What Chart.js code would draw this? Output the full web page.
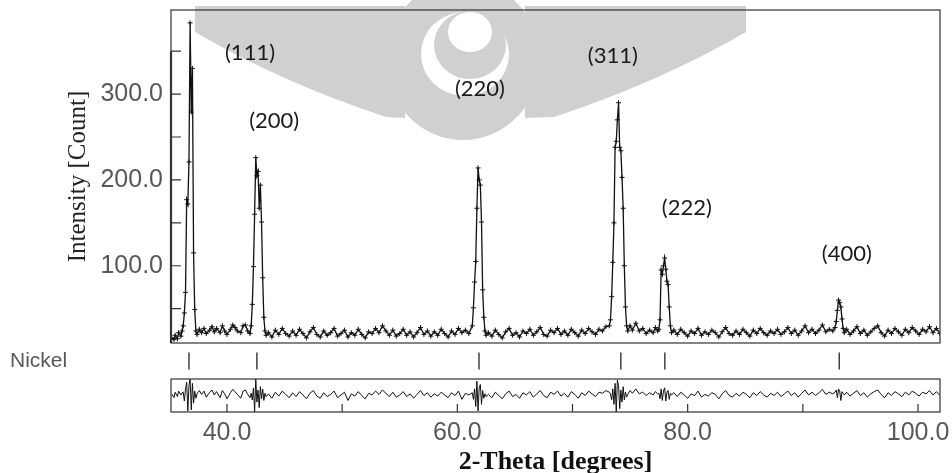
<!DOCTYPE html>
<html>
<head>
<meta charset="utf-8">
<title>Nickel XRD pattern</title>
<script src="https://cdn.jsdelivr.net/npm/chart.js@4.4.1/dist/chart.umd.min.js"></script>
<style>
  html, body { margin: 0; padding: 0; background: #fff; }
  canvas { display: block; }
</style>
</head>
<body>
<canvas id="xrdChart" width="952" height="473"></canvas>
<script>
// observed pattern: 2-theta (degrees), intensity (counts), obs - calc difference
// one line per segment so the three arrays stay lined up
const twoTheta = [
  35.2, 35.4, 35.5, 35.7, 35.8, 36.0, 36.1,
  36.2, 36.3, 36.4, 36.5, 36.6, 36.7, 36.8, 36.9, 37.0, 37.1, 37.2, 37.3, 37.4,
  37.6, 37.8, 38.0, 38.2, 38.5, 38.7, 38.9, 39.1, 39.4, 39.6, 39.8, 40.0, 40.3, 40.5, 40.7, 40.9, 41.2, 41.4, 41.6, 41.8, 42.0,
  42.1, 42.2, 42.3, 42.4, 42.5, 42.6, 42.7, 42.8, 42.9, 43.0, 43.1, 43.2, 43.3, 43.4,
  43.6, 43.9, 44.2, 44.5, 44.8, 45.1, 45.4, 45.7, 46.0, 46.3, 46.6, 46.9, 47.2, 47.5, 47.8, 48.1, 48.4, 48.7, 49.0, 49.3,
  49.6, 49.9, 50.2, 50.5, 50.8, 51.1, 51.4, 51.7, 52.0, 52.3, 52.6, 52.9, 53.2, 53.5, 53.8, 54.1, 54.4, 54.7, 55.0, 55.3,
  55.6, 55.9, 56.2, 56.5, 56.8, 57.1, 57.4, 57.7, 58.0, 58.3, 58.6, 58.9, 59.2, 59.5, 59.8, 60.1, 60.4, 60.7, 61.0,
  61.3, 61.4, 61.5, 61.6, 61.7, 61.8, 61.9, 62.0, 62.1, 62.2, 62.3, 62.4, 62.5,
  62.7, 63.0, 63.3, 63.6, 63.9, 64.2, 64.5, 64.8, 65.1, 65.4, 65.7, 66.0, 66.3, 66.6, 66.9, 67.2, 67.5, 67.8,
  68.1, 68.4, 68.7, 69.0, 69.3, 69.6, 69.9, 70.2, 70.5, 70.8, 71.1, 71.4, 71.7, 72.0, 72.3, 72.6, 72.9,
  73.2, 73.3, 73.4, 73.5, 73.6, 73.7, 73.8, 73.9, 74.0, 74.1, 74.2, 74.3, 74.4, 74.5, 74.6, 74.7, 74.8,
  75.0, 75.2, 75.5, 75.8, 76.1, 76.4, 76.7, 77.0, 77.2, 77.4,
  77.5, 77.6, 77.7, 77.8, 77.9, 78.0, 78.1, 78.2, 78.3, 78.4, 78.5, 78.6,
  78.8, 79.1, 79.4, 79.7, 80.0, 80.3, 80.6, 80.9, 81.2, 81.5, 81.8, 82.1, 82.4, 82.7, 83.0, 83.3, 83.6, 83.9, 84.2, 84.5,
  84.8, 85.1, 85.4, 85.7, 86.0, 86.3, 86.6, 86.9, 87.2, 87.5, 87.8, 88.1, 88.4, 88.7, 89.0, 89.3, 89.6, 89.9, 90.2, 90.5,
  90.8, 91.1, 91.4, 91.7, 92.0, 92.3, 92.6,
  92.8, 92.9, 93.0, 93.1, 93.2, 93.3, 93.4, 93.5, 93.6,
  93.8, 94.1, 94.4, 94.7, 95.0, 95.3, 95.6, 95.9, 96.2, 96.5, 96.8, 97.1, 97.4, 97.7,
  98.0, 98.3, 98.6, 98.9, 99.2, 99.5, 99.8, 100.1, 100.4, 100.7, 101.0, 101.3, 101.6, 101.9
];
const intensity = [
  16, 14, 19, 15, 22, 18, 24,
  30, 45, 69, 177, 172, 221, 383, 279, 330, 115, 49, 24, 20,
  26, 22, 27, 21, 25, 29, 23, 27, 22, 30, 24, 20, 26, 31, 28, 24, 22, 30, 31, 24, 21,
  30, 55, 99, 160, 226, 205, 210, 167, 194, 151, 86, 40, 24, 19,
  22, 17, 25, 20, 27, 21, 18, 24, 19, 26, 21, 16, 23, 28, 20, 17, 24, 19, 22, 27,
  18, 21, 25, 17, 22, 19, 26, 20, 16, 23, 21, 27, 22, 30, 24, 19, 25, 18, 21, 26,
  19, 23, 17, 22, 28, 20, 24, 18, 23, 19, 26, 21, 17, 24, 20, 27, 22, 25, 21,
  30, 51, 81, 105, 167, 214, 200, 194, 151, 72, 40, 24, 19,
  22, 18, 25, 20, 16, 23, 27, 19, 22, 17, 24, 21, 26, 19, 23, 28, 20, 18,
  25, 22, 27, 20, 24, 19, 26, 22, 18, 25, 21, 27, 23, 20, 26, 24, 29,
  30, 37, 64, 104, 150, 238, 245, 270, 290, 238, 234, 203, 167, 100, 52, 30, 24,
  30, 25, 33, 24, 27, 21, 25, 22, 28, 24,
  26, 37, 95, 90, 100, 109, 96, 82, 78, 52, 30, 22,
  25, 20, 26, 22, 18, 24, 21, 27, 19, 23, 20, 25, 22, 17, 23, 28, 21, 19, 24, 20,
  26, 22, 18, 25, 21, 27, 22, 19, 24, 21, 26, 20, 23, 28, 21, 25, 19, 24, 30, 22,
  26, 21, 25, 31, 23, 26, 24,
  28, 35, 48, 60, 57, 52, 38, 27, 22,
  26, 20, 24, 29, 21, 25, 19, 23, 27, 30, 22, 18, 25, 21,
  27, 23, 19, 26, 22, 28, 24, 20, 26, 23, 29, 22, 27, 21
];
const difference = [
  3, -4, 6, -2, 8, 1, 5,
  6, -10, 12, 24, -28, 18, 30, -26, 22, -14, 8, -5, 3,
  9, 2, 8, -3, 6, 10, 1, 7, -4, 9, 3, -6, 5, 11, 7, 2, -5, 8, 10, 2, -4,
  4, -8, 14, -30, 30, -12, 10, -22, 16, -6, 12, -9, 4, -2,
  3, -5, 6, -1, 8, 2, -4, 5, -2, 7, 1, -6, 4, 9, -1, -5, 5, -2, 2, 8,
  -4, 1, 6, -9, 3, -1, 7, 0, -6, 4, 1, 8, 2, 10, 4, -2, 6, -3, 1, 7,
  -2, 3, -5, 2, 9, 0, 5, -3, 3, -1, 6, 1, -4, 5, 0, 8, -7, 4, 1,
  5, -7, 12, -20, 26, -28, 14, 20, -16, 9, -5, 3, -2,
  2, -4, 6, 0, -6, 3, 8, -2, 2, -5, 5, 1, 7, -3, 3, 9, 0, -4,
  6, 2, 8, -1, 4, -3, 7, 2, -5, 5, 0, 8, 3, -2, 6, 4, 9,
  6, 3, -8, 12, -16, 22, -30, 28, 18, -24, 10, -12, 16, -8, 6, -3, 2,
  9, 4, 12, 3, 6, 0, 5, 1, 7, 3,
  4, -6, 12, -9, 8, 14, -10, 6, 9, -7, 4, 1,
  5, -2, 6, 1, -5, 3, 0, 8, -3, 2, -1, 5, 2, -6, 3, 9, 0, -3, 4, -1,
  6, 2, -4, 5, 0, 7, 1, -3, 4, 0, 6, -2, 3, 8, 0, 5, -3, 4, 10, 1,
  6, 0, 5, 11, 2, 6, 3,
  6, 10, -4, 12, 8, -9, 7, 4, 1,
  6, -1, 4, 9, 0, 5, -3, 3, 7, 10, 2, -4, 5, 0,
  7, 3, -2, 6, 1, 8, 4, -1, 6, 3, 9, 1, 7, 0
];

// reflection markers of the nickel phase
const braggPhase = ['Nickel'];
const braggTheta = [36.70, 42.60, 61.88, 74.20, 78.02, 93.16];

// miller index labels, placed in data units
const hklLabels = ['(111)', '(200)', '(220)', '(311)', '(222)', '(400)'];
const hklTheta = [42.0, 44.1, 61.96, 73.5, 79.93, 93.82];
const hklCount = [348, 269, 306, 345, 167, 114];

// tick marks and labelled ticks
const yTickValues = [50, 100, 150, 200, 250, 300, 350];
const yTickLabels = [100, 200, 300];
const xTickValues = [40, 50, 60, 70, 80, 90, 100];
const xTickLabels = [40, 60, 80, 100];

// build point lists for the chart
let observedPoints = [];
let differencePoints = [];
for (let i = 0; i < twoTheta.length; i++) {
  observedPoints.push({ x: twoTheta[i], y: intensity[i] });
  differencePoints.push({ x: twoTheta[i], y: difference[i] });
}
let braggPoints = braggTheta.map(t => ({ x: t, y: braggPhase[0] }));

const axisWidth = 161;
const watermarkGrey = '#d0d0d0';

// fixed box sizes so the three stacked panels line up with the picture
function fixVerticalAxis(s) {
  s.width = axisWidth;
  s.paddingTop = 0;
  s.paddingBottom = 0;
}
function fixHorizontalAxis(s) {
  s.height = 61;
  s.paddingLeft = 0;
  s.paddingRight = 0;
}

// faint university watermark behind the plot
function drawWatermark(ctx) {
  ctx.fillStyle = watermarkGrey;
  // left wing
  ctx.beginPath();
  ctx.moveTo(195, 6);
  ctx.lineTo(405, 6);
  ctx.lineTo(405, 118);
  ctx.lineTo(386, 117);
  ctx.quadraticCurveTo(280, 82, 195, 32);
  ctx.closePath();
  ctx.fill();
  // right wing
  ctx.beginPath();
  ctx.moveTo(746, 6);
  ctx.lineTo(525, 6);
  ctx.lineTo(525, 118);
  ctx.lineTo(554, 117);
  ctx.quadraticCurveTo(660, 82, 746, 32);
  ctx.closePath();
  ctx.fill();
  // centre ring
  ctx.beginPath();
  ctx.ellipse(463, 60, 77, 80, 0, 0, Math.PI * 2);
  ctx.fill();
  ctx.fillStyle = '#fff';
  ctx.beginPath();
  ctx.ellipse(465, 54, 44, 42, 0, 0, Math.PI * 2);
  ctx.fill();
  ctx.fillStyle = watermarkGrey;
  ctx.beginPath();
  ctx.ellipse(470, 45, 36, 34, 0, 0, Math.PI * 2);
  ctx.fill();
  ctx.fillStyle = '#fff';
  ctx.beginPath();
  ctx.ellipse(470, 32, 22, 20, 0, 0, Math.PI * 2);
  ctx.fill();
}

// frames, inward ticks and hkl labels
const framePlugin = {
  id: 'framePlugin',
  beforeDraw(chart) {
    const ctx = chart.ctx;
    ctx.save();
    ctx.fillStyle = '#fff';
    ctx.fillRect(0, 0, chart.width, chart.height);
    drawWatermark(ctx);
    ctx.restore();
  },
  afterDraw(chart) {
    const { ctx, scales } = chart;
    const x = scales.x;
    const y = scales.y;
    const yDiff = scales.yDiff;
    ctx.save();
    ctx.strokeStyle = '#333';
    ctx.lineWidth = 1.2;
    ctx.strokeRect(x.left, y.top, x.right - x.left, y.bottom - y.top);
    ctx.strokeRect(x.left, yDiff.top, x.right - x.left, yDiff.bottom - yDiff.top);
    ctx.lineWidth = 2.2;
    ctx.beginPath();
    ctx.moveTo(x.left, y.getPixelForValue(yTickValues[yTickValues.length - 1]));
    ctx.lineTo(x.left, y.bottom);
    ctx.stroke();
    ctx.lineWidth = 1.2;
    ctx.beginPath();
    yTickValues.forEach(v => {
      const py = y.getPixelForValue(v);
      ctx.moveTo(x.left, py);
      ctx.lineTo(x.left + 10, py);
    });
    xTickValues.forEach(v => {
      const px = x.getPixelForValue(v);
      ctx.moveTo(px, yDiff.bottom);
      ctx.lineTo(px, yDiff.bottom - 8);
    });
    ctx.stroke();
    ctx.fillStyle = '#1a1a1a';
    ctx.font = '22px Lato';
    ctx.textAlign = 'center';
    ctx.textBaseline = 'middle';
    for (let i = 0; i < hklLabels.length; i++) {
      ctx.fillText(hklLabels[i], x.getPixelForValue(hklTheta[i]), y.getPixelForValue(hklCount[i]));
    }
    ctx.restore();
  }
};

const tickFont = { family: 'Liberation Sans', size: 25 };
const tickColor = '#585858';

const config = {
  type: 'line',
  data: {
    datasets: [
      {
        label: 'Observed',
        data: observedPoints,
        xAxisID: 'x',
        yAxisID: 'y',
        borderColor: '#111',
        borderWidth: 1.3,
        pointStyle: 'cross',
        pointRadius: 2.5,
        pointBorderWidth: 1,
        pointBorderColor: '#111',
        tension: 0
      },
      {
        label: 'Nickel',
        data: braggPoints,
        xAxisID: 'x',
        yAxisID: 'yBragg',
        showLine: false,
        pointStyle: 'line',
        rotation: 90,
        pointRadius: 8.5,
        pointBorderWidth: 1.3,
        pointBorderColor: '#222'
      },
      {
        label: 'Difference',
        data: differencePoints,
        xAxisID: 'x',
        yAxisID: 'yDiff',
        borderColor: '#111',
        borderWidth: 1,
        pointRadius: 0,
        tension: 0
      }
    ]
  },
  options: {
    responsive: false,
    animation: false,
    devicePixelRatio: 1,
    layout: { padding: { left: 10, top: 10, right: 12, bottom: 0 } },
    plugins: {
      legend: { display: false },
      tooltip: { enabled: false }
    },
    scales: {
      x: {
        type: 'linear',
        position: 'bottom',
        min: 35.14,
        max: 101.91,
        afterBuildTicks: s => { s.ticks = xTickValues.map(v => ({ value: v })); },
        afterFit: fixHorizontalAxis,
        grid: { display: false, drawTicks: false },
        border: { display: false },
        ticks: {
          autoSkip: false,
          maxRotation: 0,
          padding: 6,
          color: tickColor,
          font: tickFont,
          callback: v => xTickLabels.includes(v) ? v.toFixed(1) : ''
        },
        title: {
          display: true,
          text: '2-Theta [degrees]',
          color: '#111',
          font: { family: 'Liberation Serif', size: 26, weight: 'bold', lineHeight: 0.8 },
          padding: { top: 0, bottom: 0 }
        }
      },
      yDiff: {
        type: 'linear',
        position: 'left',
        stack: 'panels',
        stackWeight: 33,
        weight: 1,
        min: -30,
        max: 30,
        afterFit: fixVerticalAxis,
        grid: { display: false, drawTicks: false },
        border: { display: false },
        ticks: { display: false }
      },
      yBragg: {
        type: 'category',
        labels: braggPhase,
        offset: true,
        position: 'left',
        stack: 'panels',
        stackWeight: 36,
        weight: 2,
        afterFit: fixVerticalAxis,
        grid: { display: false, drawTicks: false },
        border: { display: false },
        ticks: {
          crossAlign: 'far',
          color: tickColor,
          font: { family: 'Liberation Sans', size: 21 }
        }
      },
      y: {
        type: 'linear',
        position: 'left',
        stack: 'panels',
        stackWeight: 333,
        weight: 3,
        min: 10,
        max: 398,
        afterBuildTicks: s => { s.ticks = yTickValues.map(v => ({ value: v })); },
        afterFit: fixVerticalAxis,
        grid: { display: false, drawTicks: false },
        border: { display: false },
        ticks: {
          autoSkip: false,
          padding: 8,
          color: tickColor,
          font: tickFont,
          callback: v => yTickLabels.includes(v) ? v.toFixed(1) : ''
        },
        title: {
          display: true,
          text: 'Intensity [Count]',
          color: '#222',
          font: { family: 'Liberation Serif', size: 25 },
          padding: { top: 53, bottom: 0 }
        }
      }
    }
  },
  plugins: [framePlugin]
};

let xrdChart = new Chart(document.getElementById('xrdChart'), config);
</script>
</body>
</html>
